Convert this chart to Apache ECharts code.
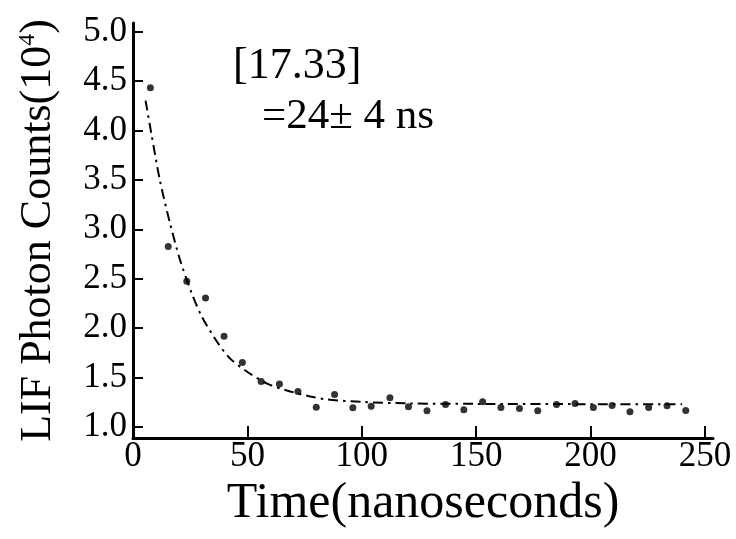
<!DOCTYPE html>
<html>
<head>
<meta charset="utf-8">
<script src="https://cdn.jsdelivr.net/npm/echarts@6/dist/echarts.min.js"></script>
<style>
html,body{margin:0;padding:0;background:#fff;}
#chart{width:736px;height:539px;}
</style>
</head>
<body>
<div id="chart"></div>
<script>
// Measured data points (time in ns, counts in 10^4)
var times = [7.6, 15.4, 23.5, 31.7, 39.8, 47.8, 56.0, 64.0, 72.1, 80.1, 88.1, 96.1, 104.1, 112.3, 120.4, 128.5, 136.6, 144.6, 152.8, 160.8, 168.9, 176.9, 185.1, 193.2, 201.2, 209.4, 217.2, 225.4, 233.4, 241.6];
var counts = [4.43, 2.825, 2.475, 2.306, 1.919, 1.653, 1.461, 1.437, 1.36, 1.20, 1.33, 1.195, 1.212, 1.296, 1.205, 1.165, 1.229, 1.175, 1.256, 1.199, 1.189, 1.165, 1.229, 1.239, 1.199, 1.219, 1.155, 1.199, 1.215, 1.169];
// Fitted decay curve
var fitTimes = [5.5, 8, 11.7, 16.4, 20.7, 25.4, 29.8, 36.8, 42.6, 49.9, 58.6, 67.3, 77.5, 84.8, 100, 120, 150, 200, 240];
var fitCounts = [4.30, 3.97, 3.50, 3.04, 2.68, 2.37, 2.13, 1.86, 1.69, 1.56, 1.44, 1.37, 1.31, 1.28, 1.255, 1.24, 1.235, 1.232, 1.23];
// Tick labels
var xTicks = [0, 50, 100, 150, 200, 250];
var yTicks = [1.0, 1.5, 2.0, 2.5, 3.0, 3.5, 4.0, 4.5, 5.0];

var FONT = '"Liberation Serif", "Times New Roman", serif';
var chart = echarts.init(document.getElementById('chart'), null, {renderer: 'canvas'});

var option = {
  backgroundColor: '#fff',
  animation: false,
  grid: {left: 133, right: 23, top: 23, bottom: 101, containLabel: false},
  xAxis: {
    type: 'value', min: 0, max: 253.5,
    name: 'Time(nanoseconds)', nameLocation: 'middle', nameGap: 33,
    nameTextStyle: {fontFamily: FONT, fontSize: 50, color: '#000'},
    axisLine: {show: true, onZero: false, lineStyle: {color: '#000', width: 3}},
    axisTick: {show: true, inside: true, length: 12, lineStyle: {color: '#000', width: 2}, customValues: xTicks},
    axisLabel: {show: true, margin: 1, fontFamily: FONT, fontSize: 35, color: '#000', customValues: xTicks, showMinLabel: true, showMaxLabel: true},
    splitLine: {show: false}
  },
  yAxis: {
    type: 'value', min: 0.89, max: 5.085,
    name: 'LIF Photon Counts(10{sup|4})', nameLocation: 'middle', nameGap: 73, nameRotate: 90,
    nameTextStyle: {fontFamily: FONT, fontSize: 44, color: '#000', rich: {sup: {fontFamily: FONT, fontSize: 24, color: '#000', verticalAlign: 'top'}}},
    axisLine: {show: true, onZero: false, lineStyle: {color: '#000', width: 3}},
    axisTick: {show: true, inside: true, length: 10, lineStyle: {color: '#000', width: 2}, customValues: yTicks},
    axisLabel: {show: true, margin: 6, fontFamily: FONT, fontSize: 35, color: '#000', customValues: yTicks, formatter: function (v) { return v.toFixed(1); }},
    splitLine: {show: false}
  },
  graphic: [
    {type: 'text', left: 233, top: 44, style: {text: '[17.33]', font: '44px ' + FONT, fill: '#000'}},
    {type: 'text', left: 262, top: 95, style: {text: '=24\u00b1 4 ns', font: '43px ' + FONT, fill: '#000'}}
  ],
  series: [
    {
      type: 'line', name: 'fit', z: 2,
      data: fitTimes.map(function (t, i) { return [t, fitCounts[i]]; }),
      showSymbol: false, smooth: 0.3,
      lineStyle: {color: '#000', width: 2, type: [10, 5, 2.5, 5]}
    },
    {
      type: 'scatter', name: 'data', z: 3,
      data: times.map(function (t, i) { return [t, counts[i]]; }),
      symbol: 'circle', symbolSize: 7,
      itemStyle: {color: '#000'}
    }
  ]
};
chart.setOption(option);
</script>
</body>
</html>
